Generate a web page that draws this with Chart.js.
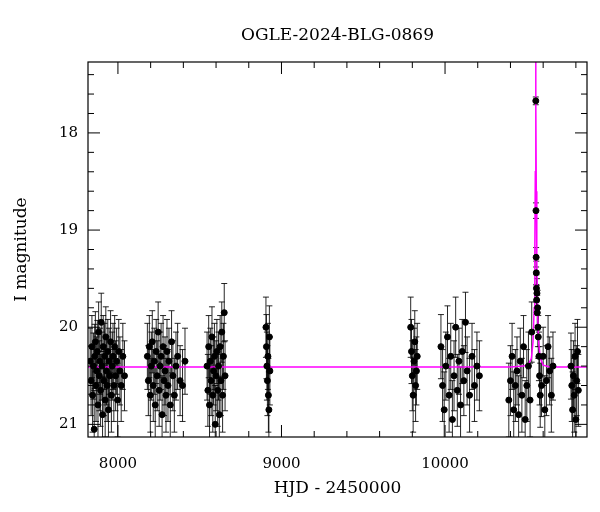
<!DOCTYPE html>
<html>
<head>
<meta charset="utf-8">
<script src="https://cdn.jsdelivr.net/npm/chart.js@4"></script>
<style>
  html, body { margin: 0; padding: 0; background: #fff; }
  #wrap { width: 600px; height: 512px; }
</style>
</head>
<body>
<div id="wrap"><canvas id="graphique" width="600" height="512"></canvas></div>
<script>
// Données
var titre = 'OGLE-2024-BLG-0869';
var xTicks = [8000, 9000, 10000];
var yTicks = [18, 19, 20, 21];

var hjd = [
  7830, 7836, 7841, 7845, 7850, 7855, 7858, 7862, 7866, 7870, 7874, 7878, 7882, 7886, 7890, 7894, 7898, 7902, 7906, 7910,
  7914, 7918, 7922, 7926, 7930, 7934, 7938, 7942, 7946, 7950, 7955, 7960, 7965, 7970, 7975, 7980, 7986, 7992, 7998, 8005,
  8012, 8020, 8030, 8040,
  8180, 8186, 8192, 8198, 8204, 8210, 8216, 8222, 8228, 8234, 8240, 8246, 8252, 8258, 8264, 8270, 8276, 8282, 8288, 8294,
  8300, 8306, 8312, 8320, 8328, 8336, 8345, 8355, 8365, 8380, 8395, 8410,
  8545, 8550, 8555, 8560, 8565, 8570, 8575, 8580, 8585, 8590, 8595, 8600, 8605, 8610, 8615, 8620, 8625, 8630, 8635, 8640,
  8645, 8650, 8655,
  8905, 8908, 8911, 8914, 8917, 8920, 8923, 8926, 8929,
  9790, 9795, 9800, 9805, 9810, 9815, 9820, 9825, 9830,
  9975, 9985, 9995, 10005, 10015, 10025, 10035, 10045, 10055, 10065, 10075, 10085, 10095, 10105, 10115, 10125, 10135, 10150,
  10165, 10180, 10195, 10210,
  10390, 10400, 10410, 10420, 10430, 10440, 10450, 10460, 10470, 10480, 10490, 10500, 10510, 10520, 10530,
  10555, 10556, 10557, 10558, 10559, 10560, 10562, 10564, 10566, 10568, 10570, 10574, 10578, 10582, 10590, 10600, 10610,
  10620, 10630, 10640, 10650, 10660,
  10770, 10775, 10780, 10785, 10790, 10795, 10800, 10805, 10810, 10815
];
var mag = [
  20.35, 20.55, 20.2, 20.7, 20.4, 21.05, 20.3, 20.15, 20.6, 20.45, 20.25, 20.8, 20.05, 20.5, 20.35, 20.65, 19.95, 20.4, 20.9, 20.2,
  20.55, 20.3, 20.75, 20.1, 20.45, 20.6, 20.25, 20.85, 20.35, 20.5, 20.15, 20.7, 20.4, 20.3, 20.6, 20.2, 20.5, 20.35, 20.75, 20.25,
  20.45, 20.6, 20.3, 20.5,
  20.3, 20.55, 20.2, 20.7, 20.4, 20.15, 20.6, 20.35, 20.8, 20.25, 20.5, 20.05, 20.65, 20.4, 20.3, 20.9, 20.2, 20.55, 20.45, 20.7,
  20.25, 20.6, 20.35, 20.8, 20.15, 20.5, 20.7, 20.4, 20.3, 20.55, 20.6, 20.35,
  20.4, 20.65, 20.2, 20.8, 20.35, 20.55, 20.1, 20.7, 20.45, 20.3, 21.0, 20.5, 20.25, 20.65, 20.4, 20.9, 20.2, 20.55, 20.05, 20.7,
  20.3, 19.85, 20.5,
  20.0, 20.2, 20.4, 20.55, 20.3, 20.7, 20.85, 20.1, 20.45,
  20.0, 20.25, 20.5, 20.7, 20.35, 20.15, 20.6, 20.45, 20.3,
  20.2, 20.6, 20.85, 20.4, 20.1, 20.7, 20.3, 20.95, 20.5, 20.0, 20.65, 20.35, 20.8, 20.25, 20.55, 19.95, 20.45, 20.7,
  20.3, 20.6, 20.4, 20.5,
  20.75, 20.55, 20.3, 20.85, 20.6, 20.45, 20.9, 20.35, 20.7, 20.2, 20.95, 20.6, 20.4, 20.75, 20.05,
  17.67, 18.8, 19.28, 19.44, 19.6, 19.72, 19.65, 19.85, 19.8, 20.0, 20.1, 20.3, 20.5, 20.7, 20.6, 20.3, 20.85,
  20.55, 20.2, 20.45, 20.7, 20.4,
  20.4, 20.6, 20.85, 20.5, 20.7, 20.3, 20.95, 20.55, 20.25, 20.65
];
var err = [
  0.34, 0.36, 0.32, 0.38, 0.34, 0.4, 0.33, 0.31, 0.37, 0.35, 0.32, 0.38, 0.31, 0.36, 0.34, 0.37, 0.3, 0.35, 0.39, 0.32,
  0.36, 0.34, 0.38, 0.31, 0.35, 0.37, 0.33, 0.39, 0.34, 0.36, 0.32, 0.38, 0.35, 0.34, 0.37, 0.32, 0.36, 0.34, 0.38, 0.33,
  0.35, 0.37, 0.34, 0.36,
  0.34, 0.36, 0.32, 0.38, 0.35, 0.32, 0.37, 0.34, 0.39, 0.33, 0.36, 0.31, 0.37, 0.35, 0.34, 0.4, 0.32, 0.36, 0.35, 0.38,
  0.33, 0.37, 0.34, 0.39, 0.32, 0.36, 0.38, 0.35, 0.34, 0.36, 0.37, 0.34,
  0.35, 0.37, 0.32, 0.39, 0.34, 0.36, 0.31, 0.38, 0.35, 0.34, 0.4, 0.36, 0.33, 0.37, 0.35, 0.39, 0.32, 0.36, 0.31, 0.38,
  0.34, 0.3, 0.36,
  0.31, 0.33, 0.35, 0.36, 0.34, 0.38, 0.39, 0.32, 0.35,
  0.31, 0.33, 0.36, 0.38, 0.34, 0.32, 0.37, 0.35, 0.34,
  0.33, 0.37, 0.39, 0.35, 0.32, 0.38, 0.34, 0.4, 0.36, 0.31, 0.37, 0.34, 0.39, 0.33, 0.36, 0.31, 0.35, 0.38,
  0.34, 0.37, 0.35, 0.36,
  0.38, 0.36, 0.34, 0.39, 0.37, 0.35, 0.4, 0.34, 0.38, 0.32, 0.4, 0.37, 0.35, 0.38, 0.31,
  0.04, 0.08, 0.1, 0.12, 0.14, 0.15, 0.15, 0.18, 0.18, 0.2, 0.22, 0.25, 0.3, 0.33, 0.32, 0.3, 0.35,
  0.36, 0.32, 0.35, 0.38, 0.35,
  0.34, 0.37, 0.39, 0.36, 0.38, 0.34, 0.4, 0.36, 0.33, 0.37
];

// Modèle (courbe magenta)
var modeleX = [7817, 8500, 9000, 9500, 10000, 10400, 10480, 10510, 10528, 10538, 10545, 10549, 10552, 10554, 10555,
               10556, 10558, 10561, 10565, 10572, 10582, 10600, 10640, 10868];
var modeleY = [20.41, 20.41, 20.41, 20.41, 20.41, 20.41, 20.40, 20.38, 20.32, 20.15, 19.8, 19.2, 18.4, 17.7, 17.2,
               17.7, 18.6, 19.3, 19.8, 20.15, 20.32, 20.39, 20.41, 20.41];

var police = '"DejaVu Serif", "Liberation Serif", serif';

var points = [];
for (var i = 0; i < hjd.length; i++) {
    points.push({ x: hjd[i], y: mag[i], e: err[i] });
}
var modele = [];
for (var j = 0; j < modeleX.length; j++) {
    modele.push({ x: modeleX[j], y: modeleY[j] });
}

// Barres d'erreur, cadre, graduations et titres
var decor = {
    id: 'decor',
    beforeDatasetsDraw: function(chart) {
        var c = chart.ctx, xs = chart.scales.x, ys = chart.scales.y, a = chart.chartArea;
        c.save();
        c.beginPath();
        c.rect(a.left, a.top, a.right - a.left, a.bottom - a.top);
        c.clip();
        c.strokeStyle = 'rgba(0,0,0,0.85)';
        c.lineWidth = 1;
        points.forEach(function(p) {
            var px = xs.getPixelForValue(p.x);
            var y1 = ys.getPixelForValue(p.y - p.e), y2 = ys.getPixelForValue(p.y + p.e);
            c.beginPath();
            c.moveTo(px, y1); c.lineTo(px, y2);
            c.moveTo(px - 3, y1); c.lineTo(px + 3, y1);
            c.moveTo(px - 3, y2); c.lineTo(px + 3, y2);
            c.stroke();
        });
        c.restore();
    },
    afterDraw: function(chart) {
        var c = chart.ctx, xs = chart.scales.x, ys = chart.scales.y, a = chart.chartArea;
        c.save();
        c.strokeStyle = '#000';
        c.lineWidth = 1.2;
        c.strokeRect(a.left, a.top, a.right - a.left, a.bottom - a.top);
        c.lineWidth = 1;
        c.beginPath();
        for (var v = 7800; v <= 10868; v += 200) {
            if (v < xs.min) continue;
            var px = xs.getPixelForValue(v), L = (v % 1000 === 0) ? 12 : 6;
            c.moveTo(px, a.bottom); c.lineTo(px, a.bottom - L);
            c.moveTo(px, a.top); c.lineTo(px, a.top + L);
        }
        for (var m = 17.4; m <= 21.1; m += 0.2) {
            var r = Math.round(m * 10) / 10;
            var py = ys.getPixelForValue(r), L2 = (Math.abs(r - Math.round(r)) < 0.01) ? 12 : 6;
            c.moveTo(a.left, py); c.lineTo(a.left + L2, py);
            c.moveTo(a.right, py); c.lineTo(a.right - L2, py);
        }
        c.stroke();
        c.fillStyle = '#000';
        c.font = '17px ' + police;
        c.textAlign = 'center';
        c.fillText(titre, (a.left + a.right) / 2, 40);
        c.fillText('HJD - 2450000', (a.left + a.right) / 2, 493);
        c.translate(26, (a.top + a.bottom) / 2);
        c.rotate(-Math.PI / 2);
        c.fillText('I magnitude', 0, 0);
        c.restore();
    }
};

var ctx = document.getElementById('graphique').getContext('2d');
new Chart(ctx, {
    type: 'scatter',
    data: {
        datasets: [{
            data: points,
            backgroundColor: '#000',
            borderColor: '#000',
            pointRadius: 3,
            pointHoverRadius: 3
        }, {
            type: 'line',
            data: modele,
            borderColor: '#ff00ff',
            borderWidth: 1.5,
            pointRadius: 0,
            fill: false,
            tension: 0
        }]
    },
    options: {
        responsive: false,
        animation: false,
        events: [],
        layout: { padding: { top: 62, right: 13, left: 0, bottom: 0 } },
        plugins: { legend: { display: false }, tooltip: { enabled: false } },
        scales: {
            x: {
                type: 'linear', min: 7817, max: 10868,
                afterBuildTicks: function(s) { s.ticks = xTicks.map(function(v) { return { value: v }; }); },
                afterFit: function(s) { s.height = 75; },
                grid: { display: false, drawTicks: false },
                border: { display: false },
                ticks: { color: '#000', padding: 18, font: { family: police, size: 15 },
                         callback: function(v) { return String(v); } }
            },
            y: {
                type: 'linear', reverse: true, min: 17.27, max: 21.13,
                afterBuildTicks: function(s) { s.ticks = yTicks.map(function(v) { return { value: v }; }); },
                afterFit: function(s) { s.width = 88; },
                grid: { display: false, drawTicks: false },
                border: { display: false },
                ticks: { color: '#000', padding: 10, font: { family: police, size: 15 },
                         callback: function(v) { return String(v); } }
            }
        }
    },
    plugins: [decor]
});
</script>
</body>
</html>
